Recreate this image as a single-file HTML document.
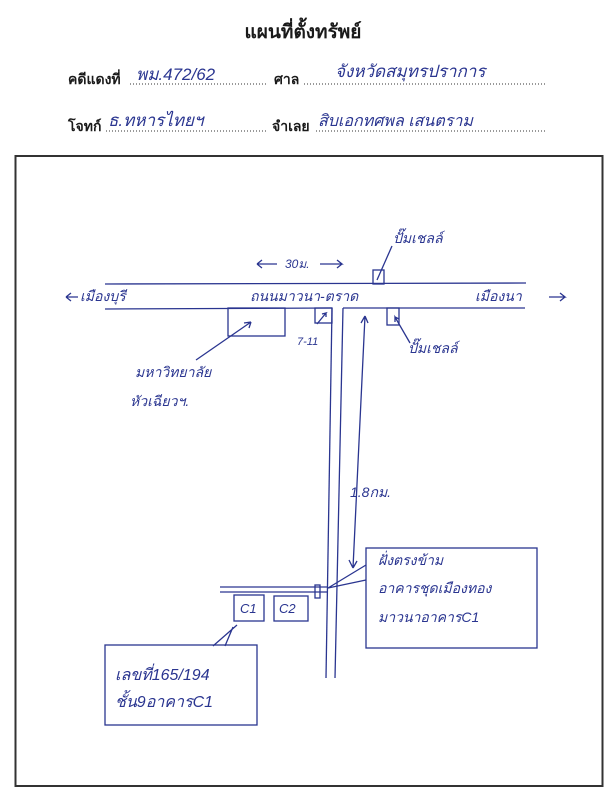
<!DOCTYPE html>
<html><head><meta charset="utf-8"><style>
html,body{margin:0;padding:0;background:#fff;}
svg{display:block;}
.p{font-family:"Liberation Sans","DejaVu Sans",sans-serif;fill:#1a1a1a;}
.h{font-family:"Liberation Sans","DejaVu Sans",sans-serif;fill:#2a3590;font-style:italic;}
</style></head><body>
<svg width="607" height="800" viewBox="0 0 607 800" xmlns="http://www.w3.org/2000/svg">
<text class="p" x="303" y="38" font-size="19" font-weight="bold" text-anchor="middle">แผนที่ตั้งทรัพย์</text>
<text class="p" x="68" y="84" font-size="14" font-weight="bold">คดีแดงที่</text>
<line x1="130" y1="84" x2="266" y2="84" stroke="#333" stroke-dasharray="1,2"/>
<text class="p" x="274" y="84" font-size="14" font-weight="bold">ศาล</text>
<line x1="304" y1="84" x2="545" y2="84" stroke="#333" stroke-dasharray="1,2"/>
<text class="h" x="136" y="80" font-size="17">พม.472/62</text>
<text class="h" x="335" y="77" font-size="17">จังหวัดสมุทรปราการ</text>
<text class="p" x="68" y="131" font-size="14" font-weight="bold">โจทก์</text>
<line x1="106" y1="131" x2="268" y2="131" stroke="#333" stroke-dasharray="1,2"/>
<text class="p" x="272" y="131" font-size="14" font-weight="bold">จำเลย</text>
<line x1="316" y1="131" x2="545" y2="131" stroke="#333" stroke-dasharray="1,2"/>
<text class="h" x="108" y="126" font-size="17">ธ.ทหารไทยฯ</text>
<text class="h" x="318" y="126" font-size="16">สิบเอกทศพล เสนตราม</text>
<rect x="15.5" y="156" width="587" height="630" fill="none" stroke="#333" stroke-width="2"/>
<g stroke="#2a3590" stroke-width="1.3" fill="none">
<line x1="105" y1="284" x2="526" y2="283"/>
<line x1="105" y1="309" x2="332" y2="308"/>
<line x1="343" y1="308" x2="525" y2="308"/>
<line x1="332" y1="308" x2="326" y2="678"/>
<line x1="343" y1="308" x2="335" y2="678"/>
<path d="M66,297 l12,0 M66,297 l5,-4 M66,297 l5,4"/>
<path d="M549,297 l16,0 l-5,-4 M565,297 l-5,4"/>
<path d="M257,264 l20,0 M257,264 l5,-4 M257,264 l5,4 M320,264 l22,0 l-5,-4 M342,264 l-5,4"/>
<rect x="373" y="270" width="11" height="14"/>
<line x1="392" y1="246" x2="377" y2="280"/>
<rect x="228" y="308" width="57" height="28"/>
<path d="M196,360 L251,322 M251,322 l-7,1 M251,322 l-2,6"/>
<rect x="315" y="308" width="17" height="15"/>
<path d="M317,324 L326,313 l-4,1 M326,313 l0,4"/>
<rect x="387" y="308" width="12" height="17"/>
<path d="M410,343 L395,317 l0,5 M395,317 l4,2"/>
<path d="M365,316 L353,568 M365,316 l-4,7 M365,316 l3,7 M353,568 l-4,-8 M353,568 l4,-7"/>
<line x1="220" y1="587" x2="327" y2="587"/>
<line x1="220" y1="592" x2="327" y2="592"/>
<rect x="315" y="585" width="5" height="13"/>
<rect x="234" y="595" width="30" height="26"/>
<rect x="274" y="596" width="34" height="25"/>
<rect x="366" y="548" width="171" height="100"/>
<path d="M366,565 L328,588 L366,580"/>
<rect x="105" y="645" width="152" height="80"/>
<path d="M237,625 L213,646 M233,627 L225,646"/>
</g>
<g class="h" font-size="14">
<text x="80" y="301">เมืองบุรี</text>
<text x="250" y="301">ถนนมาวนา-ตราด</text>
<text x="475" y="301">เมืองนา</text>
<text x="285" y="268" font-size="12">30ม.</text>
<text x="393" y="243">ปั๊มเชลล์</text>
<text x="297" y="345" font-size="11">7-11</text>
<text x="408" y="353">ปั๊มเชลล์</text>
<text x="135" y="377">มหาวิทยาลัย</text>
<text x="130" y="406">หัวเฉียวฯ.</text>
<text x="350" y="497">1.8กม.</text>
<text x="240" y="613" font-size="13">C1</text>
<text x="279" y="613" font-size="13">C2</text>
<text x="378" y="565">ฝั่งตรงข้าม</text>
<text x="378" y="593">อาคารชุดเมืองทอง</text>
<text x="378" y="622">มาวนาอาคารC1</text>
<text x="115" y="680" font-size="16">เลขที่165/194</text>
<text x="115" y="707" font-size="16">ชั้น9อาคารC1</text>
</g>
</svg>
</body></html>
